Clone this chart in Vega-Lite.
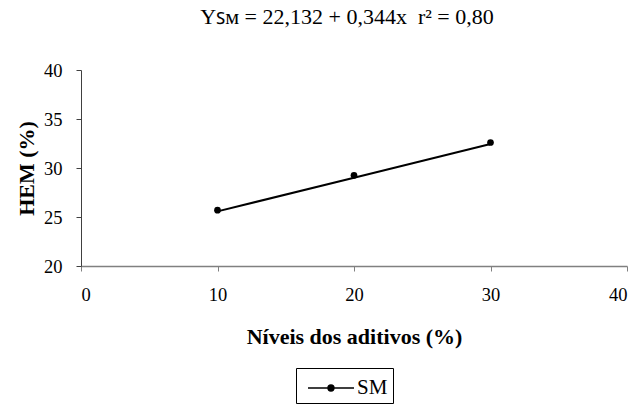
{
  "$schema": "https://vega.github.io/schema/vega-lite/v6.json",
  "width": 546,
  "height": 196,
  "autosize": {"type": "none"},
  "padding": {"left": 81, "top": 70, "right": 16, "bottom": 139},
  "background": "white",
  "title": {
    "text": "Yꜱᴍ = 22,132 + 0,344x\u00a0\u00a0r² = 0,80",
    "font": "Liberation Serif",
    "fontSize": 22,
    "fontWeight": "normal",
    "color": "black",
    "anchor": "middle",
    "dx": -7,
    "offset": 32
  },
  "config": {
    "view": {"stroke": null},
    "font": "Liberation Serif",
    "axis": {
      "grid": false,
      "labelFont": "Liberation Serif",
      "labelFontSize": 18.5,
      "labelColor": "black",
      "titleFont": "Liberation Serif",
      "titleFontSize": 22,
      "titleFontWeight": "bold",
      "titleColor": "black",
      "tickSize": 5
    }
  },
  "data": {
    "values": [
      {"nivel": 10, "hem": 25.7, "ajuste": 25.572, "serie": "SM"},
      {"nivel": 20, "hem": 29.25, "ajuste": 29.012, "serie": "SM"},
      {"nivel": 30, "hem": 32.6, "ajuste": 32.452, "serie": "SM"}
    ]
  },
  "encoding": {
    "x": {
      "field": "nivel",
      "type": "quantitative",
      "scale": {"domain": [0, 40], "nice": false, "zero": false},
      "axis": {
        "title": "Níveis dos aditivos (%)",
        "values": [0, 10, 20, 30, 40],
        "labelPadding": 14,
        "titlePadding": 23,
        "domainColor": "#808080",
        "domainWidth": 1.5,
        "tickColor": "#808080",
        "tickWidth": 1
      }
    },
    "color": {
      "field": "serie",
      "type": "nominal",
      "scale": {"range": ["black"]},
      "legend": {
        "title": null,
        "orient": "none",
        "legendX": 215,
        "legendY": 298,
        "strokeColor": "black",
        "fillColor": "white",
        "padding": 5,
        "symbolType": "M-0.571,0H2.714M0.86,0A0.21,0.21,0,1,0,1.28,0A0.21,0.21,0,1,0,0.86,0",
        "symbolSize": 784,
        "symbolStrokeWidth": 1.5,
        "symbolFillColor": "black",
        "symbolStrokeColor": "black",
        "labelFont": "Liberation Serif",
        "labelFontSize": 21,
        "labelColor": "black",
        "labelOffset": 26
      }
    }
  },
  "layer": [
    {
      "mark": {"type": "line", "strokeWidth": 2},
      "encoding": {
        "y": {
          "field": "ajuste",
          "type": "quantitative",
          "scale": {"domain": [20, 40], "nice": false, "zero": false},
          "axis": {
            "title": "HEM (%)",
            "values": [20, 25, 30, 35, 40],
            "labelPadding": 14,
            "titlePadding": 5,
            "domainColor": "#404040",
            "domainWidth": 1,
            "tickColor": "#404040"
          }
        }
      }
    },
    {
      "mark": {"type": "point", "filled": true, "size": 45, "opacity": 1},
      "encoding": {
        "y": {"field": "hem", "type": "quantitative"}
      }
    }
  ]
}
